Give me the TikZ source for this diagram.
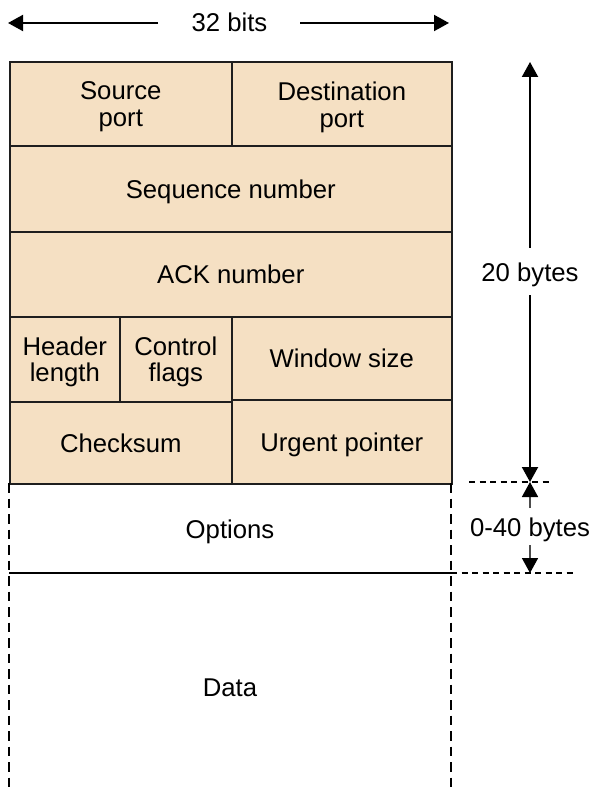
\documentclass[tikz,border=0pt]{standalone}
\usepackage{fontspec}
\setmainfont{Liberation Sans}
\usetikzlibrary{arrows.meta}
\definecolor{fieldfill}{RGB}{245,224,195}
\definecolor{edgec}{RGB}{30,30,30}
\begin{document}
\begin{tikzpicture}[x=1pt,y=-1pt,
  lbl/.style={font=\fontsize{25.7}{26.5}\selectfont, align=center, inner sep=0pt},
  one/.style={text height=18.5pt, text depth=0pt},
  two/.style={text depth=0pt},
  cell/.style={lbl, draw=edgec, fill=fieldfill, line width=1.6pt, anchor=north west, minimum width=#1},
  arr/.style={line width=2pt, -{Triangle[length=15pt,width=16pt]}},
  garr/.style={line width=1.6pt, draw=black!70, -{Triangle[length=15pt,width=16pt,color=black]}},
  vdash/.style={line width=1.8pt, dash pattern=on 9.5pt off 6pt},
  hdash/.style={line width=1.3pt, dash pattern=on 6pt off 4.5pt}]
\useasboundingbox (0,0) rectangle (592,791);
\fill[white] (0,0) rectangle (592,791);
% header cells
\node[cell=222pt, minimum height=84pt, two] (src) at (9,61) {Source\\port};
\node[cell=220pt, minimum height=84.5pt, two] (dst) at (231,61.5) {Destination\\port};
\node[cell=442pt, minimum height=86pt, one] (seq) at (9,145) {Sequence number};
\node[cell=442pt, minimum height=85pt, one] (ack) at (9,231) {ACK number};
\node[cell=110pt, minimum height=85pt, two] (hdr) at (9,316) {Header\\length};
\node[cell=112pt, minimum height=85pt, two] (ctl) at (119,316) {Control\\flags};
\node[cell=220pt, minimum height=83pt, one] (win) at (231,316) {Window size};
\node[cell=222pt, minimum height=82pt, one] (chk) at (9,401) {Checksum};
\node[cell=220pt, minimum height=84pt, one] (urg) at (231,399) {Urgent pointer};
% options / data
\coordinate (optTL) at (9,483);
\coordinate (optTR) at (451,483);
\coordinate (optBL) at (9,573);
\coordinate (optBR) at (451,573);
\coordinate (dataBL) at (9,795);
\coordinate (dataBR) at (451,795);
\draw[vdash] (optTL) -- (dataBL);
\draw[vdash] (optTR) -- (dataBR);
\draw[line width=2.6pt] (optBL) -- (optBR);
\node[lbl, one] (opt) at (230,529) {Options};
\node[lbl, one] (data) at (230,687) {Data};
% 32 bits
\node[lbl, one] (bits) at (229.5,22) {32 bits};
\coordinate (bitsL0) at (158,23);
\coordinate (bitsL1) at (8,23);
\coordinate (bitsR0) at (300,23);
\coordinate (bitsR1) at (449,23);
\draw[arr] (bitsL0) -- (bitsL1);
\draw[arr] (bitsR0) -- (bitsR1);
% 20 bytes
\node[lbl, one] (twenty) at (530,272) {20 bytes};
\coordinate (twT0) at (530,248);
\coordinate (twT1) at (530,62);
\coordinate (twB0) at (530,295);
\coordinate (twB1) at (530,482);
\draw[arr] (twT0) -- (twT1);
\draw[arr] (twB0) -- (twB1);
% dashed guides
\coordinate (g1a) at (469,482);
\coordinate (g1b) at (553,482);
\coordinate (g2a) at (451,573);
\coordinate (g2b) at (573,573);
\draw[hdash] (g1a) -- (g1b);
\draw[hdash] (g2a) -- (g2b);
% 0-40 bytes
\node[lbl, one] (forty) at (530,527) {0-40 bytes};
\coordinate (fT0) at (530,508);
\coordinate (fT1) at (530,482);
\coordinate (fB0) at (530,545);
\coordinate (fB1) at (530,573);
\draw[garr] (fT0) -- (fT1);
\draw[garr] (fB0) -- (fB1);
\end{tikzpicture}
\end{document}
